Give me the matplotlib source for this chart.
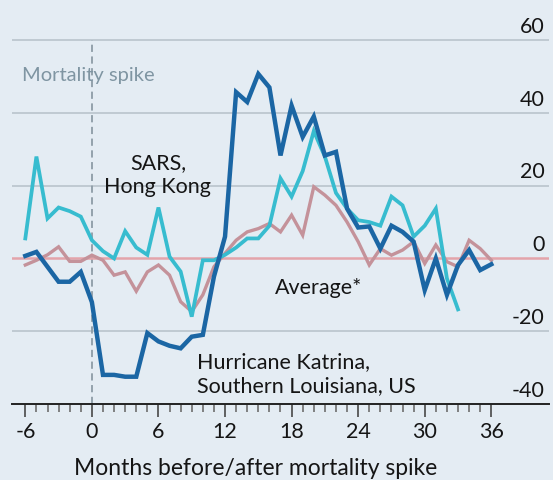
import numpy as np
import matplotlib
matplotlib.use('Agg')
import matplotlib.pyplot as plt
import matplotlib.transforms as mtransforms

plt.rcParams['font.family'] = ['Lato', 'DejaVu Sans']

# months before/after the mortality spike
months_katrina = list(range(-6, 37))
katrina = [0.7, 1.8, -2.3, -6.4, -6.4, -3.7, -12, -32, -32, -32.5, -32.5, -20.5,
           -22.8, -24, -24.7, -21.5, -21, -5, 6, 45.7, 43, 50.7, 47, 28.3, 42,
           33.4, 39, 28.3, 29.3, 13.7, 8.5, 8.8, 2.7, 9, 7.3, 4.6, -8.7, 0, -10,
           -1.8, 2.3, -3.2, -1.6]

months_sars = list(range(-6, 34))
sars = [5.5, 28, 11, 14, 13, 11.5, 5, 2, 0, 7.5, 3, 1, 14, 0.5, -3.6, -16,
        -0.5, -0.5, 1, 3, 5.5, 5.5, 9, 22, 17, 24, 35, 28, 18, 13.7, 10.5, 10,
        9, 17, 14.6, 6, 9, 13.7, -5.5, -14]

months_avg = list(range(-6, 37))
average = [-1.8, -0.5, 1, 3.2, -0.8, -0.8, 0.9, -0.5, -4.6, -3.7, -9, -3.7,
           -1.8, -4.6, -11.9, -14.6, -10, -2.3, 1.4, 5, 7.3, 8.2, 9.6, 7.3, 11.9,
           6.4, 19.7, 17.4, 14.6, 10, 4.6, -1.8, 2.7, 0.9, 2.3, 4.6, -1.4, 3.7,
           -0.9, -2.3, 5, 2.7, -0.5]

y_ticks = [60, 40, 20, 0, -20, -40]
x_ticks = [-6, 0, 6, 12, 18, 24, 30, 36]

bg = '#e4ecf3'
dark_blue = '#1b66a4'
cyan = '#37bccf'
pink = '#c4929a'
zero_red = '#e3a4aa'
grid_col = '#b9c4cc'
ink = '#151515'

fig = plt.figure(figsize=(5.53, 4.81), dpi=100)
fig.patch.set_facecolor(bg)
ax = fig.add_axes([12 / 553, 76 / 481, 537 / 553, 405 / 481])
ax.set_facecolor(bg)
ax.set_xlim(-7.2, 41.2)
ax.set_ylim(-40, 71.3)

for s in ['top', 'right', 'left']:
    ax.spines[s].set_visible(False)
ax.spines['bottom'].set_color('#222222')
ax.spines['bottom'].set_linewidth(1.4)

# gridlines and labels on the right, sitting above the lines
lbl_tr = mtransforms.blended_transform_factory(ax.transAxes, ax.transData)
for v in y_ticks:
    if v not in (0, -40):
        ax.axhline(v, color=grid_col, lw=1.2, zorder=1)
    ax.text(0.992, v + 1.2, str(v), transform=lbl_tr, ha='right', va='bottom',
            fontsize=15.5, color=ink)
ax.axhline(0, color=zero_red, lw=1.8, zorder=2)

ax.plot([0, 0], [-40, 60], color='#8d9ca6', lw=1.3, ls=(0, (4, 2.5)), zorder=1)

ax.plot(months_avg, average, color=pink, lw=2.4, zorder=3, solid_joinstyle='miter')
ax.plot(months_sars, sars, color=cyan, lw=2.7, zorder=4, solid_joinstyle='miter')
ax.plot(months_katrina, katrina, color=dark_blue, lw=3.2, zorder=5, solid_joinstyle='miter')

ax.set_xticks(x_ticks)
ax.set_xticklabels([str(x) for x in x_ticks], fontsize=15.5, color=ink)
ax.set_xticks(np.arange(-6, 37), minor=True)
ax.tick_params(axis='x', which='major', direction='out', length=9, width=1.3,
               color='#555555', pad=3)
ax.tick_params(axis='x', which='minor', direction='out', length=6, width=1.3,
               color='#777777')
ax.set_yticks([])
fig.text(256 / 553, 1 - 469 / 481, 'Months before/after mortality spike',
         fontsize=16.5, color=ink, ha='center', va='center')

ax.text(-6.3, 50.5, 'Mortality spike', fontsize=14.5, color='#7f95a2',
        ha='left', va='center')
ax.text(5.95, 23.2, 'SARS,\nHong Kong', fontsize=15.5, color=ink,
        ha='center', va='center', linespacing=1.3)
ax.text(20.4, -7.8, 'Average*', fontsize=15.5, color=ink,
        ha='center', va='center')
ax.text(9.5, -31.5, 'Hurricane Katrina,\nSouthern Louisiana, US', fontsize=15.5,
        color=ink, ha='left', va='center', linespacing=1.3)

fig.savefig('out.png', dpi=100, facecolor=bg)
